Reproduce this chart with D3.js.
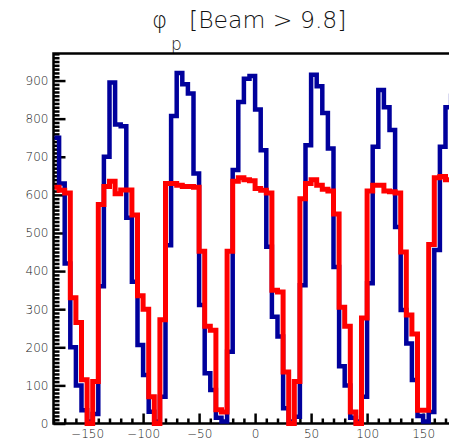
<!DOCTYPE html>
<html>
<head>
<meta charset="utf-8">
<script src="https://cdn.jsdelivr.net/npm/d3@7/dist/d3.min.js"></script>
<style>
  html, body { margin: 0; padding: 0; background: #fff; }
  svg { display: block; }
</style>
</head>
<body>
<svg id="chart" width="449" height="440"></svg>
<script>
"use strict";

//72 bins of 5 degrees, from -180 to 180
var binLow = -180;
var binWidth = 5;

//Blue histogram (all events)
var countsBlue = [
  750, 630, 420, 200, 100,  35,   5,  25, 360, 700, 895, 785,
  780, 540, 372, 206, 127,  31,   5,  70, 468, 807, 920, 890,
  866, 656, 311, 132,  88,  15,   5, 188, 665, 844, 905, 912,
  824, 717, 464, 280, 228,  40,   5,  18, 363, 730, 915, 885,
  815, 722, 411, 150, 100,  15,   5,  70, 368, 726, 875, 830,
  770, 516, 298, 210, 114,  20,   5,  30, 455, 726, 830, 860
];

//Red histogram (selected events)
var countsRed = [
  620, 612, 605, 330, 265, 115,   0, 110, 575, 622, 636, 603,
  613, 613, 547, 335, 300,  70,   0, 272, 630, 630, 625, 622,
  622, 620, 452, 255, 245,  36,  30, 452, 636, 645, 640, 637,
  617, 612, 605, 350, 345, 135,   0, 110, 590, 630, 640, 625,
  615, 610, 550, 305, 255,  30,   0, 277, 610, 625, 625, 610,
  608, 605, 450, 285, 235,  35,  35, 470, 645, 648, 640, 640
];

var xMajor = [-150, -100, -50, 0, 50, 100, 150];
var yMajor = [0, 100, 200, 300, 400, 500, 600, 700, 800, 900];

var svg = d3.select("#chart"),
    frame = {left: 53.5, top: 53.5, bottom: 423.5, right: 456.7};

var x = d3.scaleLinear().domain([-180, 180]).range([frame.left, frame.right]);
var y = d3.scaleLinear().domain([0, 971]).range([frame.bottom, frame.top]);

//minor ticks every 10 units, majors removed
var xMinor = d3.range(-180, 181, 10).filter(function(d) { return xMajor.indexOf(d) < 0; });
var yMinor = d3.range(0, 971, 10).filter(function(d) { return yMajor.indexOf(d) < 0; });

//Title
var title = svg.append("text")
    .attr("font-family", "DejaVu Sans")
    .attr("font-weight", 200)
    .attr("fill", "#111");
title.append("tspan").attr("x", 152).attr("y", 28).attr("font-size", 23).text("φ");
title.append("tspan").attr("x", 171).attr("y", 49.5).attr("font-size", 17).text("p");
title.append("tspan").attr("x", 189).attr("y", 28).attr("font-size", 23.5).text("[Beam > 9.8]");

//Axes (ticks pointing inside the frame, like ROOT)
function styleAxis(g) {
  g.select(".domain").remove();
  g.selectAll(".tick line").attr("stroke", "#000").attr("stroke-width", 2.5);
  g.selectAll(".tick text")
    .attr("font-family", "DejaVu Sans")
    .attr("font-weight", 200)
    .attr("font-size", 12)
    .attr("fill", "#222");
}

svg.append("g")
    .attr("transform", "translate(" + frame.left + ",0)")
    .call(d3.axisLeft(y).tickValues(yMajor).tickSize(-12).tickPadding(5))
    .call(styleAxis);
svg.append("g")
    .attr("transform", "translate(" + frame.left + ",0)")
    .call(d3.axisLeft(y).tickValues(yMinor).tickSize(-6).tickFormat(""))
    .call(styleAxis);

svg.append("g")
    .attr("transform", "translate(0," + frame.bottom + ")")
    .call(d3.axisBottom(x).tickValues(xMajor).tickSize(-10).tickPadding(6)
      .tickFormat(function(d) { return d < 0 ? "\u2212" + (-d) : d; }))
    .call(styleAxis);
svg.append("g")
    .attr("transform", "translate(0," + frame.bottom + ")")
    .call(d3.axisBottom(x).tickValues(xMinor).tickSize(-5).tickFormat(""))
    .call(styleAxis);

//Frame (right side is outside the picture)
svg.append("path")
    .attr("d", "M" + (frame.right + 5) + "," + frame.top + "H" + frame.left +
               "V" + frame.bottom + "H" + (frame.right + 5))
    .attr("fill", "none")
    .attr("stroke", "#000")
    .attr("stroke-width", 2.5);

//Histograms, clipped to the frame
svg.append("clipPath").attr("id", "frameClip")
  .append("rect")
    .attr("x", frame.left + 1)
    .attr("y", frame.top + 1)
    .attr("width", frame.right - frame.left)
    .attr("height", frame.bottom - frame.top + 2);

function histPoints(counts) {
  var pts = counts.map(function(c, i) { return [x(binLow + i * binWidth), y(c)]; });
  pts.push([x(binLow + counts.length * binWidth), y(counts[counts.length - 1])]);
  return pts;
}

var step = d3.line().curve(d3.curveStepAfter);

var hists = svg.append("g").attr("clip-path", "url(#frameClip)");
hists.append("path")
    .attr("d", step(histPoints(countsBlue)))
    .attr("fill", "none")
    .attr("stroke", "#00009c")
    .attr("stroke-width", 4.5);
hists.append("path")
    .attr("d", step(histPoints(countsRed)))
    .attr("fill", "none")
    .attr("stroke", "#ff0000")
    .attr("stroke-width", 5);
</script>
</body>
</html>
